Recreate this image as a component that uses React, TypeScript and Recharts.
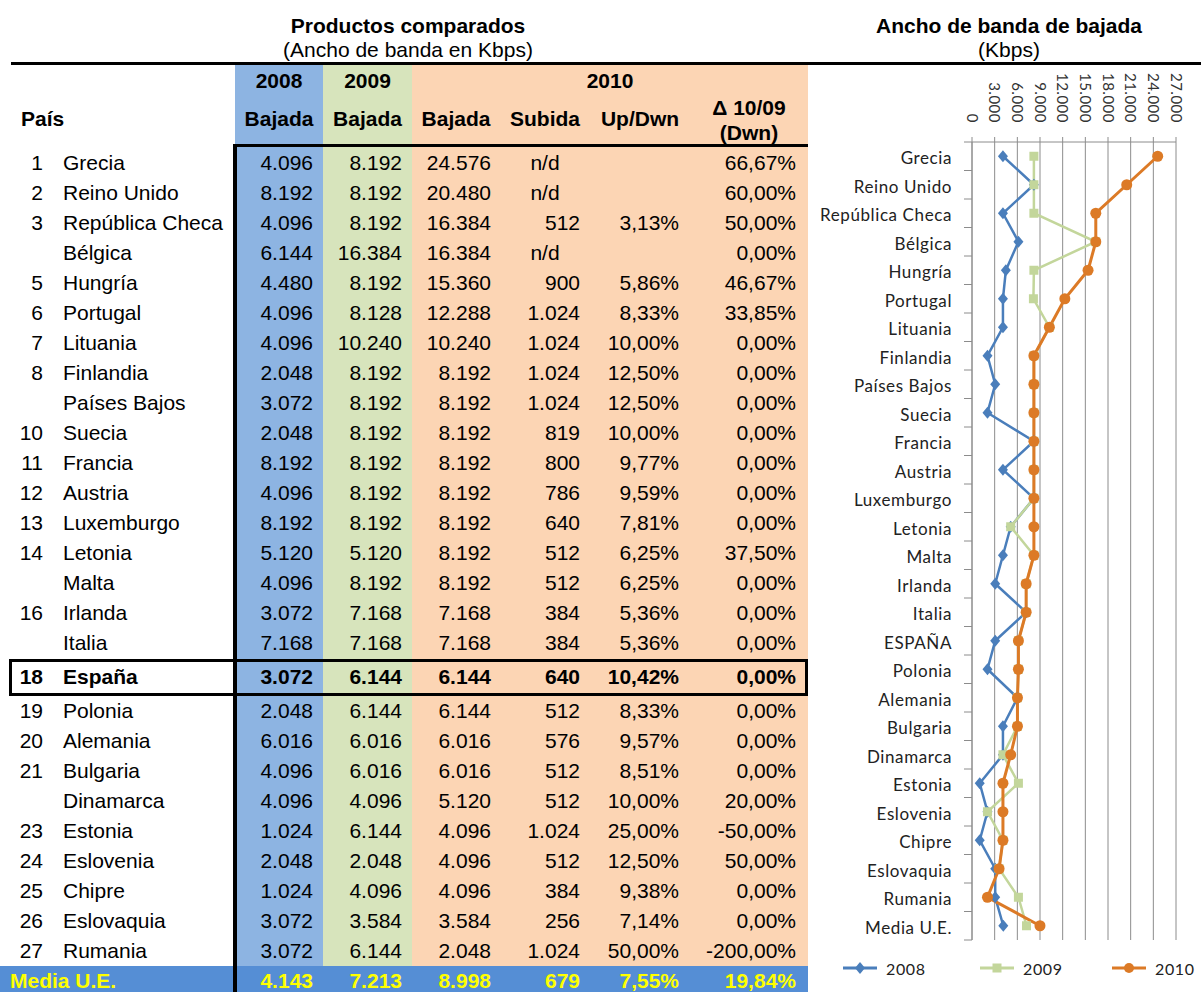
import React from "react";
import { CartesianGrid, Line, LineChart, XAxis, YAxis } from "recharts";

const paises = [
  "Grecia", "Reino Unido", "República Checa", "Bélgica", "Hungría", "Portugal",
  "Lituania", "Finlandia", "Países Bajos", "Suecia", "Francia", "Austria",
  "Luxemburgo", "Letonia", "Malta", "Irlanda", "Italia", "España", "Polonia",
  "Alemania", "Bulgaria", "Dinamarca", "Estonia", "Eslovenia", "Chipre",
  "Eslovaquia", "Rumania", "Media U.E.",
];
const puestos = [
  "1", "2", "3", "", "5", "6", "7", "8", "", "10", "11", "12", "13", "14", "",
  "16", "", "18", "19", "20", "21", "", "23", "24", "25", "26", "27", "",
];
const etiquetasGrafico = [
  "Grecia", "Reino Unido", "República Checa", "Bélgica", "Hungría", "Portugal",
  "Lituania", "Finlandia", "Países Bajos", "Suecia", "Francia", "Austria",
  "Luxemburgo", "Letonia", "Malta", "Irlanda", "Italia", "ESPAÑA", "Polonia",
  "Alemania", "Bulgaria", "Dinamarca", "Estonia", "Eslovenia", "Chipre",
  "Eslovaquia", "Rumania", "Media U.E.",
];
const bajada2008 = [
  4096, 8192, 4096, 6144, 4480, 4096, 4096, 2048, 3072, 2048, 8192, 4096, 8192,
  5120, 4096, 3072, 7168, 3072, 2048, 6016, 4096, 4096, 1024, 2048, 1024, 3072,
  3072, 4143,
];
const bajada2009 = [
  8192, 8192, 8192, 16384, 8192, 8128, 10240, 8192, 8192, 8192, 8192, 8192,
  8192, 5120, 8192, 7168, 7168, 6144, 6144, 6016, 6016, 4096, 6144, 2048, 4096,
  3584, 6144, 7213,
];
const bajada2010 = [
  24576, 20480, 16384, 16384, 15360, 12288, 10240, 8192, 8192, 8192, 8192, 8192,
  8192, 8192, 8192, 7168, 7168, 6144, 6144, 6016, 6016, 5120, 4096, 4096, 4096,
  3584, 2048, 8998,
];
const subida2010: (number | null)[] = [
  null, null, 512, null, 900, 1024, 1024, 1024, 1024, 819, 800, 786, 640, 512,
  512, 384, 384, 640, 512, 576, 512, 512, 1024, 512, 384, 256, 1024, 679,
];
const upDwn2010: (number | null)[] = [
  null, null, 3.13, null, 5.86, 8.33, 10.0, 12.5, 12.5, 10.0, 9.77, 9.59, 7.81,
  6.25, 6.25, 5.36, 5.36, 10.42, 8.33, 9.57, 8.51, 10.0, 25.0, 12.5, 9.38, 7.14,
  50.0, 7.55,
];
const delta1009 = [
  66.67, 60.0, 50.0, 0, 46.67, 33.85, 0, 0, 0, 0, 0, 0, 0, 37.5, 0, 0, 0, 0, 0,
  0, 0, 20.0, -50.0, 50.0, 0, 0, -200.0, 19.84,
];
const ticksKbps = [0, 3000, 6000, 9000, 12000, 15000, 18000, 21000, 24000, 27000];
const anios = ["2008", "2009", "2010"];

const AZUL = "#8DB4E2";
const VERDE = "#D7E4BC";
const NARANJA = "#FCD5B4";
const AZUL_MEDIA = "#558ED5";
const C2008 = "#4A7EBB";
const C2009 = "#C3D69B";
const C2010 = "#DC7A26";
const GRIS = "#8C8C8C";

const FUENTE = '"Liberation Sans", Arial, Helvetica, sans-serif';
const FUENTE_GRAF = 'Lato, "Open Sans", sans-serif';

const miles = (v: number) =>
  String(Math.round(v)).replace(/\B(?=(\d{3})+(?!\d))/g, ".");
const pct = (v: number) => v.toFixed(2).replace(".", ",") + "%";

const columnas = [
  { izq: 235, der: 323, texto: 313, fondo: AZUL },
  { izq: 323, der: 412, texto: 402, fondo: VERDE },
  { izq: 412, der: 500, texto: 491, fondo: NARANJA },
  { izq: 500, der: 590, texto: 580, fondo: NARANJA },
  { izq: 590, der: 690, texto: 679, fondo: NARANJA },
  { izq: 690, der: 808, texto: 796, fondo: NARANJA },
];

const IDX_ESP = 17;
const filaTop = (i: number) =>
  i < IDX_ESP ? 148 + 30 * i : i === IDX_ESP ? 658 : 696 + 30 * (i - 18);
const filaAlto = (i: number) => (i === IDX_ESP ? 38 : 30);

function Celda({ left, width, top, height, align = "left", style, children }: any) {
  return (
    <div
      style={{
        position: "absolute",
        left,
        width,
        top,
        height,
        lineHeight: `${height}px`,
        textAlign: align,
        whiteSpace: "nowrap",
        ...style,
      }}
    >
      {children}
    </div>
  );
}

// geometría del gráfico
const G_LEFT = 810;
const G_TOP = 65;
const G_W = 391;
const G_H = 927;
const EJE_Y_W = 162;
const EJE_X_H = 77;
const MARGEN_INF = 52;
const PLOT_H = G_H - EJE_X_H - MARGEN_INF;
const PASO = PLOT_H / etiquetasGrafico.length;
const Y_TICK = 8;
const Y_MARGIN = 12;

function TickPais(props: any) {
  const { x, y, payload, index } = props;
  const ejeX = x + Y_MARGIN + Y_TICK;
  return (
    <g>
      <text
        x={x}
        y={y + 2}
        dy="0.36em"
        textAnchor="end"
        fontFamily={FUENTE_GRAF}
        fontSize={17}
        letterSpacing={0.6}
        fill="#222"
      >
        {payload.value}
      </text>
      <line x1={ejeX - Y_TICK} x2={ejeX} y1={y + PASO / 2} y2={y + PASO / 2} stroke={GRIS} />
      {index === 0 && (
        <line x1={ejeX - Y_TICK} x2={ejeX} y1={y - PASO / 2} y2={y - PASO / 2} stroke={GRIS} />
      )}
    </g>
  );
}

function TickKbps(props: any) {
  const { x, y, payload } = props;
  return (
    <g transform={`translate(${x},${y})`}>
      <text
        transform="rotate(90)"
        textAnchor="end"
        dy="0.36em"
        fontFamily={FUENTE_GRAF}
        fontSize={15}
        letterSpacing={0.5}
        fill="#333"
      >
        {miles(payload.value)}
      </text>
    </g>
  );
}

const rombo = (p: any) =>
  p.cx == null ? null : (
    <path
      key={`r${p.index}`}
      d={`M${p.cx},${p.cy - 6}L${p.cx + 5},${p.cy}L${p.cx},${p.cy + 6}L${p.cx - 5},${p.cy}Z`}
      fill={C2008}
    />
  );
const cuadro = (p: any) =>
  p.cx == null ? null : (
    <rect key={`c${p.index}`} x={p.cx - 4.5} y={p.cy - 4.5} width={9} height={9} fill={C2009} />
  );
const circulo = (p: any) =>
  p.cx == null ? null : <circle key={`o${p.index}`} cx={p.cx} cy={p.cy} r={5.5} fill={C2010} />;

const series = [
  { key: "a2008", nombre: anios[0], color: C2008, dot: rombo, ancho: 2.5 },
  { key: "a2009", nombre: anios[1], color: C2009, dot: cuadro, ancho: 2.5 },
  { key: "a2010", nombre: anios[2], color: C2010, dot: circulo, ancho: 3 },
];

const datosGrafico = etiquetasGrafico.map((pais, i) => ({
  pais,
  a2008: bajada2008[i],
  a2009: bajada2009[i],
  a2010: bajada2010[i],
}));

function IconoLeyenda({ color, forma }: { color: string; forma: string }) {
  return (
    <svg width={34} height={14} style={{ display: "block" }}>
      <line x1={0} x2={34} y1={7} y2={7} stroke={color} strokeWidth={3} />
      {forma === "rombo" && <path d="M17,1L22,7L17,13L12,7Z" fill={color} />}
      {forma === "cuadro" && <rect x={12.5} y={2.5} width={9} height={9} fill={color} />}
      {forma === "circulo" && <circle cx={17} cy={7} r={5} fill={color} />}
    </svg>
  );
}

const leyendaPos = [843, 980, 1112];
const formas = ["rombo", "cuadro", "circulo"];

export default function App() {
  const filas = paises.map((pais, i) => {
    const top = filaTop(i);
    const h = filaAlto(i);
    const esEsp = i === IDX_ESP;
    const esMedia = i === paises.length - 1;
    const estilo = {
      fontWeight: esEsp || esMedia ? 700 : 400,
      color: esMedia ? "#FFFF00" : "#000",
    };
    const valores = [
      miles(bajada2008[i]),
      miles(bajada2009[i]),
      miles(bajada2010[i]),
      subida2010[i] == null ? null : miles(subida2010[i] as number),
      upDwn2010[i] == null ? "" : pct(upDwn2010[i] as number),
      pct(delta1009[i]),
    ];
    return (
      <React.Fragment key={pais}>
        {esMedia ? (
          <Celda left={10} width={220} top={top} height={h} style={estilo}>
            {pais}
          </Celda>
        ) : (
          <>
            <Celda left={0} width={43} top={top} height={h} align="right" style={estilo}>
              {puestos[i]}
            </Celda>
            <Celda left={63} width={170} top={top} height={h} style={estilo}>
              {pais}
            </Celda>
          </>
        )}
        {valores.map((v, c) =>
          v === null ? (
            <Celda
              key={c}
              left={columnas[c].izq}
              width={columnas[c].der - columnas[c].izq}
              top={top}
              height={h}
              align="center"
              style={estilo}
            >
              n/d
            </Celda>
          ) : (
            <Celda
              key={c}
              left={columnas[c].izq}
              width={columnas[c].texto - columnas[c].izq}
              top={top}
              height={h}
              align="right"
              style={estilo}
            >
              {v}
            </Celda>
          )
        )}
      </React.Fragment>
    );
  });

  const cab = { fontWeight: 700 };
  const etiquetasCab = ["Bajada", "Bajada", "Bajada", "Subida", "Up/Dwn"];

  return (
    <div
      style={{
        position: "absolute",
        left: 0,
        top: 0,
        width: 1201,
        height: 992,
        overflow: "hidden",
        background: "#fff",
        fontFamily: FUENTE,
        fontSize: 21,
        color: "#000",
      }}
    >
      {/* fondos de columnas */}
      {columnas.map((c, k) => (
        <div
          key={k}
          style={{
            position: "absolute",
            left: c.izq,
            width: c.der - c.izq,
            top: 65,
            height: 966 - 65,
            background: c.fondo,
          }}
        />
      ))}
      <div
        style={{ position: "absolute", left: 0, width: 808, top: 966, height: 30, background: AZUL_MEDIA }}
      />

      {/* títulos */}
      <Celda left={208} width={400} top={12} height={28} align="center" style={cab}>
        Productos comparados
      </Celda>
      <Celda left={208} width={400} top={36} height={28} align="center">
        (Ancho de banda en Kbps)
      </Celda>
      <Celda left={809} width={400} top={12} height={28} align="center" style={cab}>
        Ancho de banda de bajada
      </Celda>
      <Celda left={809} width={400} top={36} height={28} align="center">
        (Kbps)
      </Celda>
      <div style={{ position: "absolute", left: 11, width: 1190, top: 62, height: 3, background: "#000" }} />

      {/* cabecera */}
      <Celda left={21} width={100} top={104} height={30} style={cab}>
        País
      </Celda>
      <Celda left={235} width={88} top={66} height={30} align="center" style={cab}>
        {anios[0]}
      </Celda>
      <Celda left={323} width={89} top={66} height={30} align="center" style={cab}>
        {anios[1]}
      </Celda>
      <Celda left={412} width={396} top={66} height={30} align="center" style={cab}>
        {anios[2]}
      </Celda>
      {etiquetasCab.map((t, k) => (
        <Celda
          key={k}
          left={columnas[k].izq}
          width={columnas[k].der - columnas[k].izq}
          top={104}
          height={30}
          align="center"
          style={cab}
        >
          {t}
        </Celda>
      ))}
      <Celda left={690} width={118} top={95} height={26} align="center" style={cab}>
        Δ 10/09
      </Celda>
      <Celda left={690} width={118} top={120} height={26} align="center" style={cab}>
        (Dwn)
      </Celda>

      {filas}

      {/* bordes */}
      <div style={{ position: "absolute", left: 233, width: 575, top: 144, height: 3, background: "#000" }} />
      <div style={{ position: "absolute", left: 233, width: 4, top: 144, height: 848, background: "#000" }} />
      <div
        style={{
          position: "absolute",
          left: 9,
          width: 799,
          top: 659,
          height: 37,
          border: "3px solid #000",
          boxSizing: "border-box",
        }}
      />

      {/* gráfico */}
      <div style={{ position: "absolute", left: G_LEFT, top: G_TOP, width: G_W, height: G_H }}>
        <LineChart
          width={G_W}
          height={G_H}
          data={datosGrafico}
          layout="vertical"
          margin={{ top: 0, right: 25, bottom: MARGEN_INF, left: 0 }}
        >
          <CartesianGrid horizontal={false} stroke={GRIS} />
          <XAxis
            type="number"
            orientation="top"
            domain={[0, 27000]}
            ticks={ticksKbps}
            interval={0}
            height={EJE_X_H}
            tickSize={5}
            tickMargin={14}
            stroke={GRIS}
            tick={(p: any) => <TickKbps {...p} />}
          />
          <YAxis
            type="category"
            dataKey="pais"
            width={EJE_Y_W}
            interval={0}
            padding={{ top: PASO / 2, bottom: PASO / 2 }}
            tickLine={false}
            tickSize={Y_TICK}
            tickMargin={Y_MARGIN}
            axisLine={{ stroke: GRIS }}
            tick={(p: any) => <TickPais {...p} />}
          />
          {series.map((s) => (
            <Line
              key={s.key}
              dataKey={s.key}
              stroke={s.color}
              strokeWidth={s.ancho}
              dot={s.dot}
              activeDot={false}
              isAnimationActive={false}
            />
          ))}
        </LineChart>
      </div>

      {/* leyenda */}
      {series.map((s, k) => (
        <div
          key={s.key}
          style={{
            position: "absolute",
            left: leyendaPos[k],
            top: 958,
            height: 20,
            display: "flex",
            alignItems: "center",
            gap: 9,
            fontFamily: FUENTE_GRAF,
            fontSize: 16,
            letterSpacing: 0.6,
            color: "#222",
          }}
        >
          <IconoLeyenda color={s.color} forma={formas[k]} />
          <span>{s.nombre}</span>
        </div>
      ))}
    </div>
  );
}
